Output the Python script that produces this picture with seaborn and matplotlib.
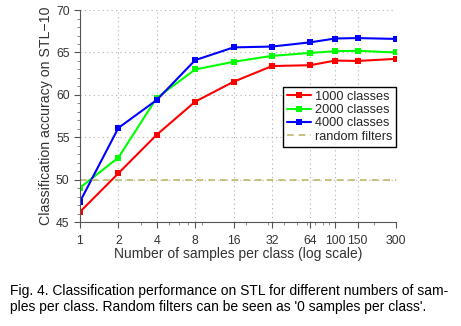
import numpy as np
import pandas as pd
import matplotlib
matplotlib.use("Agg")
import matplotlib.pyplot as plt
import seaborn as sns
from matplotlib.ticker import FixedLocator, FixedFormatter, MultipleLocator, LogLocator, NullFormatter
from matplotlib.lines import Line2D

samples = [1, 2, 4, 8, 16, 32, 64, 100, 150, 300]
acc_1000 = [46.2, 50.75, 55.3, 59.2, 61.55, 63.4, 63.5, 64.05, 64.0, 64.25]
acc_2000 = [49.05, 52.6, 59.65, 63.0, 63.9, 64.6, 64.95, 65.15, 65.2, 65.0]
acc_4000 = [47.4, 56.1, 59.4, 64.1, 65.6, 65.7, 66.2, 66.65, 66.7, 66.6]
random_level = 50.0
series_names = ["1000 classes", "2000 classes", "4000 classes"]
xtick_labels = ["1", "2", "4", "8", "16", "32", "64", "100", "150", "300"]
yticks = [45, 50, 55, 60, 65, 70]

df = pd.DataFrame({
    "samples": samples * 3,
    "acc": acc_1000 + acc_2000 + acc_4000,
    "series": sum([[n] * len(samples) for n in series_names], []),
})

sns.set_style("ticks")
plt.rcParams["font.family"] = ["Liberation Sans", "DejaVu Sans"]

fig = plt.figure(figsize=(4.61, 3.26), dpi=100)
ax = fig.add_axes([0.1735, 0.319, 0.6855, 0.65])

palette = {"1000 classes": "#ff0000", "2000 classes": "#00ff00", "4000 classes": "#0000ff"}
sns.lineplot(data=df, x="samples", y="acc", hue="series", palette=palette,
             marker="s", markersize=5, markeredgewidth=0, linewidth=1.5, ax=ax,
             legend=False)
ax.plot([samples[0], samples[-1]], [random_level, random_level], color="#bdb86a",
        linestyle=(0, (4, 3)), linewidth=1.2, label="random filters")

ax.set_xscale("log")
ax.set_xlim(1, 300)
ax.set_ylim(45, 70)
ax.xaxis.set_major_locator(FixedLocator(samples))
ax.xaxis.set_major_formatter(FixedFormatter(xtick_labels))
ax.xaxis.set_minor_locator(LogLocator(base=10, subs=np.arange(2, 10)))
ax.xaxis.set_minor_formatter(NullFormatter())
ax.yaxis.set_major_locator(FixedLocator(yticks))
ax.yaxis.set_minor_locator(MultipleLocator(1))

ax.grid(True, which="major", linestyle=(0, (1, 3)), color="#b0b0b0", linewidth=0.8)
for s in ["top", "right"]:
    ax.spines[s].set_visible(False)
for s in ["left", "bottom"]:
    ax.spines[s].set_color("#555555")
ax.tick_params(which="major", direction="out", length=4, width=0.8, colors="#555555",
               labelsize=8.8, labelcolor="#333333")
ax.tick_params(axis="x", which="major", pad=5)
ax.tick_params(which="minor", direction="out", length=2, width=0.6, colors="#777777")

ax.set_xlabel("Number of samples per class (log scale)", fontsize=10, color="#333333", labelpad=0)
ax.set_ylabel("Classification accuracy on STL\u221210", fontsize=10.2, color="#333333", labelpad=2)

handles = [Line2D([], [], color=palette[n], marker="s", markersize=4, markeredgewidth=0, linewidth=1.5)
           for n in series_names]
handles.append(Line2D([], [], color="#bdb86a", linestyle=(0, (4, 3)), linewidth=1.2))
leg = ax.legend(handles, series_names + ["random filters"], loc="upper left",
                bbox_to_anchor=(0.642, 0.637), fontsize=9.2, frameon=True, fancybox=False,
                edgecolor="black", framealpha=1, borderpad=0.3, labelspacing=0.1,
                handlelength=1.9, handletextpad=0.3, borderaxespad=0)
leg.get_frame().set_linewidth(1.0)

fig.text(0.022, 0.129, "Fig. 4. Classification performance on STL for different numbers of sam-\n"
         "ples per class. Random filters can be seen as '0 samples per class'.",
         fontsize=10, color="black", ha="left", va="top", linespacing=1.2)

fig.savefig("out.png", dpi=100)
